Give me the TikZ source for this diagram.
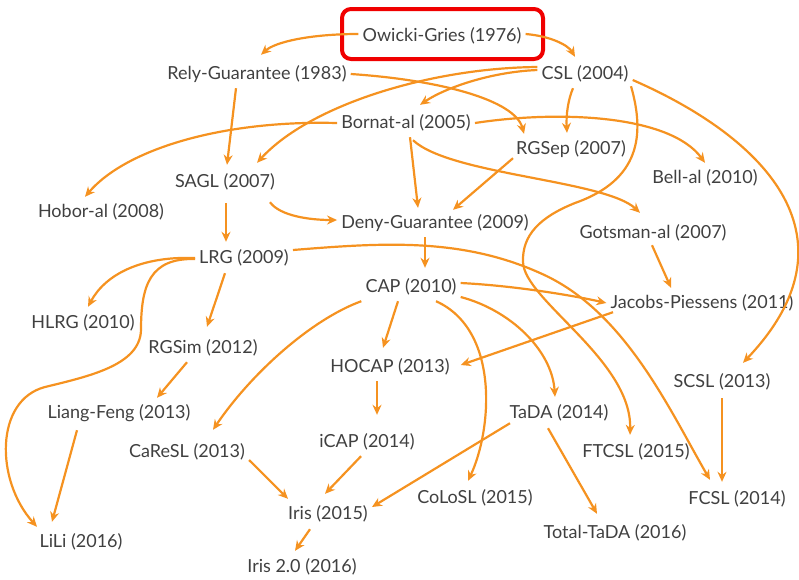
\documentclass[tikz,border=0pt]{standalone}
\usepackage{fontspec}
\setmainfont{Lato}
\usetikzlibrary{arrows.meta}
\definecolor{edgeor}{RGB}{245,146,32}
\definecolor{txtgray}{RGB}{64,64,64}
\definecolor{hlred}{RGB}{240,0,0}
\begin{document}
\begin{tikzpicture}[x=1pt,y=-1pt,
  lbl/.style={text=txtgray,font=\fontsize{18}{20}\selectfont,inner xsep=4pt,inner ysep=5pt,text height=14pt,text depth=4pt},
  arr/.style={draw=edgeor,line width=2.2pt,-{Stealth[length=10pt,width=9pt]}},
  hlbox/.style={draw=hlred,line width=4pt,rounded corners=9pt,minimum width=201pt,minimum height=50pt}]
\useasboundingbox (0,0) rectangle (799,579);
% nodes
\node[lbl] (og) at (442,36) {Owicki-Gries (1976)};
\node[hlbox] (hl) at (442.5,34) {};
\node[lbl] (rely) at (257,74) {Rely-Guarantee (1983)};
\node[lbl] (csl) at (585,74) {CSL (2004)};
\node[lbl] (bornat) at (406,123) {Bornat-al (2005)};
\node[lbl] (rgsep) at (571,149) {RGSep (2007)};
\node[lbl] (bell) at (705,178) {Bell-al (2010)};
\node[lbl] (sagl) at (225,182) {SAGL (2007)};
\node[lbl] (hobor) at (101,212) {Hobor-al (2008)};
\node[lbl] (deny) at (435,223) {Deny-Guarantee (2009)};
\node[lbl] (gotsman) at (653,233) {Gotsman-al (2007)};
\node[lbl] (lrg) at (244,258) {LRG (2009)};
\node[lbl] (cap) at (411,287) {CAP (2010)};
\node[lbl] (jacobs) at (702,303) {Jacobs-Piessens (2011)};
\node[lbl] (hlrg) at (83,323) {HLRG (2010)};
\node[lbl] (rgsim) at (203,348) {RGSim (2012)};
\node[lbl] (hocap) at (390,367) {HOCAP (2013)};
\node[lbl] (scsl) at (722,382) {SCSL (2013)};
\node[lbl] (liang) at (119,413) {Liang-Feng (2013)};
\node[lbl] (tada) at (559,413) {TaDA (2014)};
\node[lbl] (caresl) at (187,452) {CaReSL (2013)};
\node[lbl] (icap) at (367,442) {iCAP (2014)};
\node[lbl] (ftcsl) at (636,452) {FTCSL (2015)};
\node[lbl] (fcsl) at (737,499) {FCSL (2014)};
\node[lbl] (colosl) at (475,498) {CoLoSL (2015)};
\node[lbl] (iris) at (328,514) {Iris (2015)};
\node[lbl] (total) at (615,533) {Total-TaDA (2016)};
\node[lbl] (lili) at (81,542) {LiLi (2016)};
\node[lbl] (iristwo) at (302,567) {Iris 2.0 (2016)};
% edges
\draw[arr] ([yshift=2pt]og.west) .. controls (310,34) and (275,42) .. ([shift={(4pt,5pt)}]rely.north);
\draw[arr] ([yshift=2pt]og.east) .. controls (550,36) and (568,45) .. ([shift={(-10pt,3pt)}]csl.north);
\draw[arr] (rely.east) .. controls (440,80) and (515,100) .. ([shift={(-47pt,1pt)}]rgsep.north);
\draw[arr] ([xshift=-21pt]rely.south) -- ([shift={(2pt,3pt)}]sagl.north);
\draw[arr] ([yshift=7pt]csl.west) .. controls (430,68) and (310,105) .. ([shift={(32pt,5pt)}]sagl.north);
\draw[arr] ([yshift=4pt]csl.west) .. controls (490,72) and (445,88) .. ([shift={(14pt,4pt)}]bornat.north);
\draw[arr] ([xshift=-12pt]csl.south) .. controls (568,100) and (566,115) .. ([shift={(-4pt,2pt)}]rgsep.north);
\draw[arr] ([yshift=-6pt]csl.east) .. controls (770,140) and (860,240) .. ([shift={(21pt,5pt)}]scsl.north);
\draw[arr] ([shift={(46pt,2pt)}]csl.south) .. controls (645,135) and (640,180) .. (575,203)
   .. controls (540,217) and (522,235) .. (523,262)
   .. controls (524,300) and (632,360) .. ([shift={(-6pt,3pt)}]ftcsl.north);
\draw[arr] (bornat.west) .. controls (220,120) and (125,150) .. ([shift={(-16pt,1pt)}]hobor.north);
\draw[arr] (bornat.east) .. controls (560,110) and (670,115) .. ([yshift=1pt]bell.north);
\draw[arr] ([xshift=4pt]bornat.south) -- ([shift={(-17pt,1pt)}]deny.north);
\draw[arr] ([shift={(7pt,-3pt)}]bornat.south) .. controls (450,175) and (605,180) .. ([shift={(-13pt,6pt)}]gotsman.north);
\draw[arr] ([shift={(-58pt,5pt)}]rgsep.south) -- ([shift={(18pt,-1pt)}]deny.north);
\draw[arr] ([shift={(1pt,-7pt)}]sagl.south) -- ([shift={(-18pt,2pt)}]lrg.north);
\draw[arr] ([shift={(45pt,-6pt)}]sagl.south) .. controls (280,216) and (310,220) .. ([yshift=3pt]deny.west);
\draw[arr] ([xshift=-10pt]deny.south) -- ([shift={(14pt,5pt)}]cap.north);
\draw[arr] ([shift={(-1pt,2pt)}]gotsman.south) -- ([shift={(-31pt,1pt)}]jacobs.north);
\draw[arr] (lrg.west) .. controls (140,256) and (105,275) .. ([shift={(5pt,2pt)}]hlrg.north);
\draw[arr] ([yshift=-1pt]lrg.west) .. controls (150,258) and (141,285) .. (141,330)
   .. controls (140,365) and (90,376) .. (45,387)
   .. controls (-5,400) and (-5,480) .. ([shift={(-44pt,1pt)}]lili.north);
\draw[arr] ([shift={(-19pt,-1pt)}]lrg.south) -- ([shift={(4pt,7pt)}]rgsim.north);
\draw[arr] ([yshift=8pt]lrg.east) .. controls (380,243) and (460,237) .. (540,273)
   .. controls (625,310) and (670,411) .. ([shift={(-27pt,5pt)}]fcsl.north);
\draw[arr] ([yshift=4pt]cap.east) .. controls (520,286) and (580,297) .. (jacobs.west);
\draw[arr] ([xshift=-13pt]cap.south) -- ([shift={(-7pt,5pt)}]hocap.north);
\draw[arr] (cap.south west) .. controls (310,320) and (250,375) .. ([shift={(26pt,8pt)}]caresl.north);
\draw[arr] ([xshift=25pt]cap.south) .. controls (500,330) and (492,430) .. ([shift={(-7pt,3pt)}]colosl.north);
\draw[arr] ([yshift=-10pt]cap.east) .. controls (510,310) and (552,350) .. ([shift={(-4pt,2pt)}]tada.north);
\draw[arr] ([shift={(-89pt,5pt)}]jacobs.south) -- ([shift={(7pt,2pt)}]hocap.east);
\draw[arr] ([xshift=-13pt]hocap.south) -- ([shift={(10pt,13pt)}]icap.north);
\draw[arr] ([xshift=-16pt]rgsim.south) -- ([shift={(38pt,1pt)}]liang.north);
\draw[arr] ([shift={(-42pt,-3pt)}]liang.south) -- ([shift={(-29pt,6pt)}]lili.north);
\draw[arr] ([yshift=-8pt]caresl.east) -- ([shift={(-40pt,1pt)}]iris.north);
\draw[arr] ([xshift=-6pt]icap.south) -- ([shift={(-3pt,6pt)}]iris.north);
\draw[arr] ([shift={(-49pt,4pt)}]tada.south) -- ([yshift=7pt]iris.east);
\draw[arr] ([shift={(-11pt,-1pt)}]tada.south) -- ([shift={(-18pt,5pt)}]total.north);
\draw[arr] ([shift={(-18pt,-1pt)}]iris.south) -- ([shift={(-7pt,2pt)}]iristwo.north);
\draw[arr] ([yshift=-2pt]scsl.south) -- ([shift={(-15pt,3pt)}]fcsl.north);
\end{tikzpicture}
\end{document}
